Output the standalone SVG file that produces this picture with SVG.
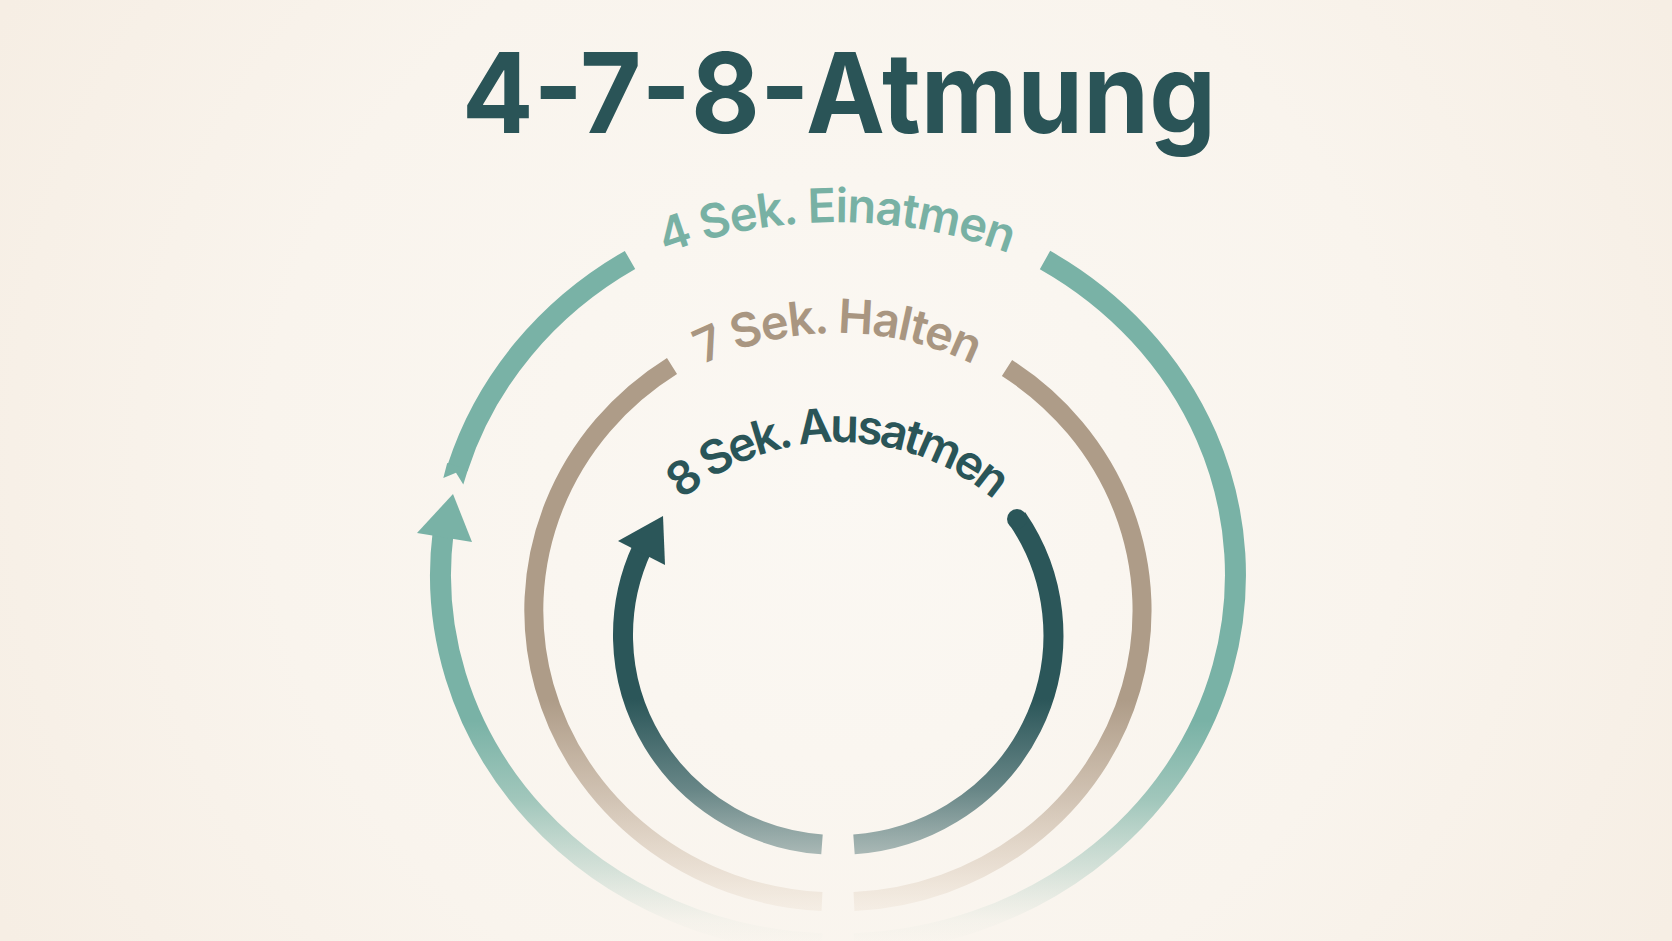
<svg xmlns="http://www.w3.org/2000/svg" width="1672" height="941" viewBox="0 0 1672 941">
  <defs>
    <radialGradient id="bg" cx="836" cy="470" r="950" gradientUnits="userSpaceOnUse">
      <stop offset="0" stop-color="#fbf8f3"/>
      <stop offset="0.6" stop-color="#f9f4ed"/>
      <stop offset="1" stop-color="#f6eee4"/>
    </radialGradient>
    <linearGradient id="gTeal" x1="0" y1="600" x2="0" y2="945" gradientUnits="userSpaceOnUse">
      <stop offset="0" stop-color="#79b2a6" stop-opacity="1"/>
      <stop offset="0.35" stop-color="#79b2a6" stop-opacity="1"/>
      <stop offset="0.58" stop-color="#7fb5a8" stop-opacity="0.72"/>
      <stop offset="0.78" stop-color="#8fbcb0" stop-opacity="0.35"/>
      <stop offset="0.93" stop-color="#a9c9bd" stop-opacity="0.06"/>
      <stop offset="1" stop-color="#a9c9bd" stop-opacity="0"/>
    </linearGradient>
    <linearGradient id="gTan" x1="0" y1="600" x2="0" y2="945" gradientUnits="userSpaceOnUse">
      <stop offset="0" stop-color="#ae9c88" stop-opacity="1"/>
      <stop offset="0.29" stop-color="#ae9c88" stop-opacity="1"/>
      <stop offset="0.58" stop-color="#b9a590" stop-opacity="0.62"/>
      <stop offset="0.78" stop-color="#c9b39c" stop-opacity="0.33"/>
      <stop offset="0.89" stop-color="#d9c3ab" stop-opacity="0.17"/>
      <stop offset="1" stop-color="#d9c3ab" stop-opacity="0.05"/>
    </linearGradient>
    <linearGradient id="gDark" x1="0" y1="600" x2="0" y2="860" gradientUnits="userSpaceOnUse">
      <stop offset="0" stop-color="#2b5659" stop-opacity="1"/>
      <stop offset="0.38" stop-color="#2b5659" stop-opacity="1"/>
      <stop offset="0.73" stop-color="#2f5b5e" stop-opacity="0.72"/>
      <stop offset="0.96" stop-color="#3d6668" stop-opacity="0.45"/>
      <stop offset="1" stop-color="#3d6668" stop-opacity="0.4"/>
    </linearGradient>
    <path id="p1" d="M348,711 A489,489 0 0 1 1326,711"/>
    <path id="p2" d="M533,638 A305,305 0 0 1 1143,638"/>
    <path id="p3" d="M600,680 A238,238 0 0 1 1076,680"/>
  </defs>
  <style>
    .arc { fill: none; stroke-linecap: butt; }
    .teal { stroke: url(#gTeal); stroke-width: 21; }
    .tan { stroke: url(#gTan); stroke-width: 19; }
    .dark { stroke: url(#gDark); stroke-width: 20; }
    .lbl { font-family: Inter, "Noto Sans", "Liberation Sans", sans-serif; font-weight: 600; font-size: 47px; }
    .title { font-family: Inter, "Noto Sans", "Liberation Sans", sans-serif; font-weight: 700; font-size: 111px; fill: #2a5457; }
  </style>
  <rect width="1672" height="941" fill="url(#bg)"/>

  <g id="title">
    <text class="title" x="839" y="133" text-anchor="middle" textLength="754" lengthAdjust="spacingAndGlyphs">4-7-8-Atmung</text>
  </g>

  <g id="connectors">
    <!-- outer teal: inhale -->
    <path class="arc teal" d="M630,260 A397.5,369 0 0 0 457.6,468"/>
    <polygon fill="#79b2a6" points="447.2,463 443.3,478 456,472.8 463.3,484.6 468,469.5"/>
    <path class="arc teal" d="M443.2,532 A397.5,369 0 0 0 822,943.7"/>
    <polygon fill="#79b2a6" points="453,494 417,533 472,542"/>
    <path class="arc teal" d="M1045,260 A397.5,369 0 0 1 854,943.7"/>
    <!-- middle tan: hold -->
    <path class="arc tan" d="M672,366 A303.5,291.5 0 0 0 822,901.6"/>
    <path class="arc tan" d="M1007,368 A303.5,291.5 0 0 1 854,901.6"/>
    <!-- inner dark: exhale -->
    <path class="arc dark" d="M642.3,548 A215,210 0 0 0 822,844.4"/>
    <polygon fill="#2b5659" points="663,516 618,541 665,565"/>
    <path class="arc dark" d="M1017,518 A215,210 0 0 1 854,844.4"/>
    <circle cx="1017" cy="519" r="10" fill="#2b5659"/>
  </g>

  <g id="label-inhale">
    <text class="lbl" fill="#78b1a4"><textPath href="#p1" startOffset="50%" text-anchor="middle" textLength="352" lengthAdjust="spacing">4 Sek. Einatmen</textPath></text>
  </g>
  <g id="label-hold">
    <text class="lbl" fill="#a99681"><textPath href="#p2" startOffset="50%" text-anchor="middle" textLength="280" lengthAdjust="spacing">7 Sek. Halten</textPath></text>
  </g>
  <g id="label-exhale">
    <text class="lbl" fill="#2a5558" font-size="43"><textPath href="#p3" startOffset="50%" text-anchor="middle" textLength="340" lengthAdjust="spacing">8 Sek. Ausatmen</textPath></text>
  </g>
</svg>
